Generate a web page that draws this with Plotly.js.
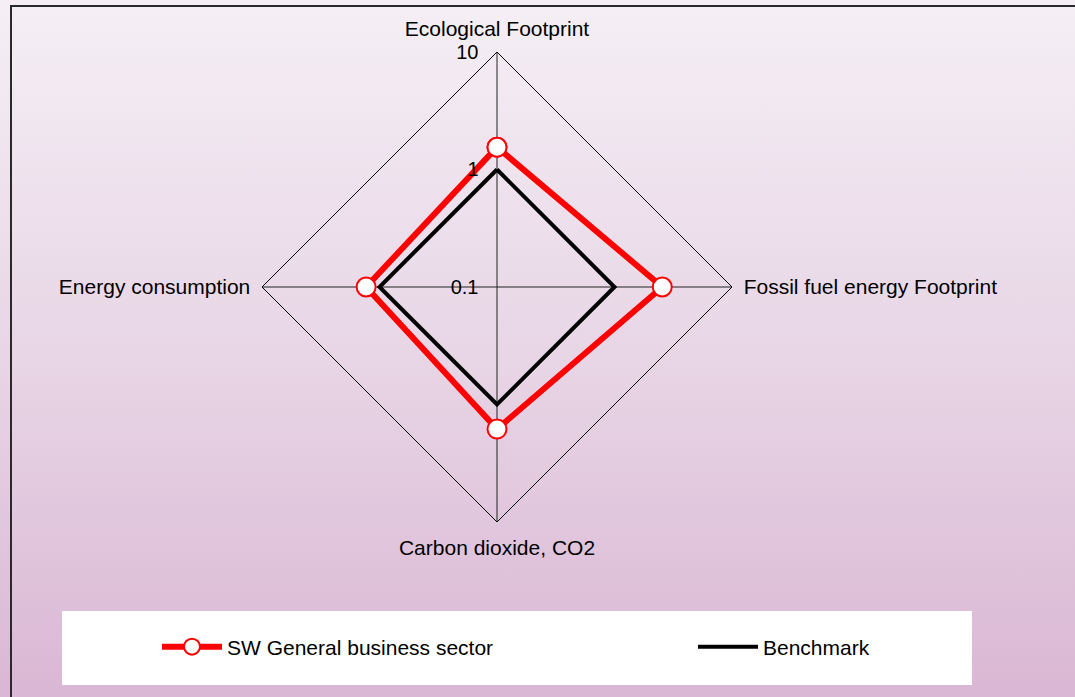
<!DOCTYPE html>
<html>
<head>
<meta charset="utf-8">
<script src="https://cdn.plot.ly/plotly-3.0.1.min.js"></script>
<style>
  html, body { margin: 0; padding: 0; overflow: hidden; }
  body { position: relative; width: 1075px; height: 697px; background: linear-gradient(to bottom, #f5eff5 0%, #e8d6e6 50%, #dab7d4 100%); }
  #frame { position: absolute; left: 10px; top: 5px; width: 1200px; height: 800px; border-left: 2px solid #2a2a2a; border-top: 2px solid #2a2a2a; pointer-events: none; z-index: 2; }
  #chart { position: absolute; left: 0; top: 0; width: 1075px; height: 697px; z-index: 1; }
  #edge { position: absolute; right: 0; top: 8px; width: 6px; height: 689px; z-index: 3; pointer-events: none;
          background: linear-gradient(to bottom, #f5eff5 -1.2%, #e8d6e6 49.4%, #dab7d4 100%); }
</style>
</head>
<body>
<div id="chart"></div>
<div id="frame"></div>
<div id="edge"></div>
<script>
// Categories (angular axis), clockwise from the top
const categories = ["Ecological Footprint", "Fossil fuel energy Footprint", "Carbon dioxide, CO2", "Energy consumption"];
// Series values
const swGeneralBusiness = [1.55, 2.55, 1.62, 1.30];
const benchmark = [1.0, 1.0, 1.0, 1.0];
// Radial tick labels
const radialTickVals = [0.1, 1, 10];
const radialTickText = ["0.1", "1", "10"];

function closeLoop(arr) { return arr.concat([arr[0]]); }

const FONT = "Liberation Sans, Arial, sans-serif";
const W = 1075, H = 697;

const traces = [
  {
    type: "scatterpolar",
    name: "SW General business sector",
    r: closeLoop(swGeneralBusiness),
    theta: closeLoop(categories),
    mode: "lines+markers",
    line: { color: "#ff0000", width: 6 },
    marker: { symbol: "circle", size: 19, color: "#ffffff", line: { color: "#ff0000", width: 2 } },
    legend: "legend"
  },
  {
    type: "scatterpolar",
    name: "Benchmark",
    r: closeLoop(benchmark),
    theta: closeLoop(categories),
    mode: "lines",
    line: { color: "#000000", width: 4 },
    legend: "legend2"
  }
];

const legendCommon = {
  orientation: "h",
  xanchor: "left",
  y: (H - 647) / H, yanchor: "middle",
  bgcolor: "rgba(0,0,0,0)",
  borderwidth: 0,
  itemwidth: 60,
  font: { family: FONT, size: 21, color: "#000" }
};

const layout = {
  width: W, height: H,
  margin: { l: 0, r: 0, t: 0, b: 0 },
  paper_bgcolor: "rgba(0,0,0,0)",
  font: { family: FONT, size: 21, color: "#000" },
  showlegend: true,
  polar: {
    domain: { x: [262 / W, 732 / W], y: [(H - 522) / H, (H - 52) / H] },
    bgcolor: "rgba(0,0,0,0)",
    gridshape: "linear",
    angularaxis: {
      type: "category",
      rotation: 90,
      direction: "clockwise",
      showline: true, linecolor: "#000", linewidth: 1,
      showgrid: true, gridcolor: "#222", gridwidth: 1,
      ticks: "outside", ticklen: 7, tickcolor: "rgba(0,0,0,0)",
      tickfont: { family: FONT, size: 21, color: "#000" }
    },
    radialaxis: {
      type: "log",
      range: [-1, 1],
      angle: 90,
      side: "counterclockwise",
      tickangle: 90,
      tickvals: radialTickVals,
      ticktext: radialTickText,
      showgrid: false,
      showline: false,
      ticks: "outside", ticklen: 11, tickcolor: "rgba(0,0,0,0)",
      tickfont: { family: FONT, size: 20, color: "#000" }
    }
  },
  legend: Object.assign({}, legendCommon, { x: 157 / W }),
  legend2: Object.assign({}, legendCommon, { x: 693 / W }),
  shapes: [
    { type: "rect", xref: "paper", yref: "paper", layer: "below",
      x0: 62 / W, x1: 972 / W, y0: (H - 685) / H, y1: (H - 611) / H,
      fillcolor: "#ffffff", line: { width: 0 } }
  ]
};

Plotly.newPlot("chart", traces, layout, { displayModeBar: false, staticPlot: true }).then(function (gd) {
  // Plotly's polygon (linear gridshape) inside-test mis-handles log radial ranges
  // and hides the markers; make the library-drawn points visible again.
  gd.querySelectorAll(".scatterlayer .points path.point").forEach(function (p) {
    p.removeAttribute("display");
    p.style.display = "";
  });
});
</script>
</body>
</html>
